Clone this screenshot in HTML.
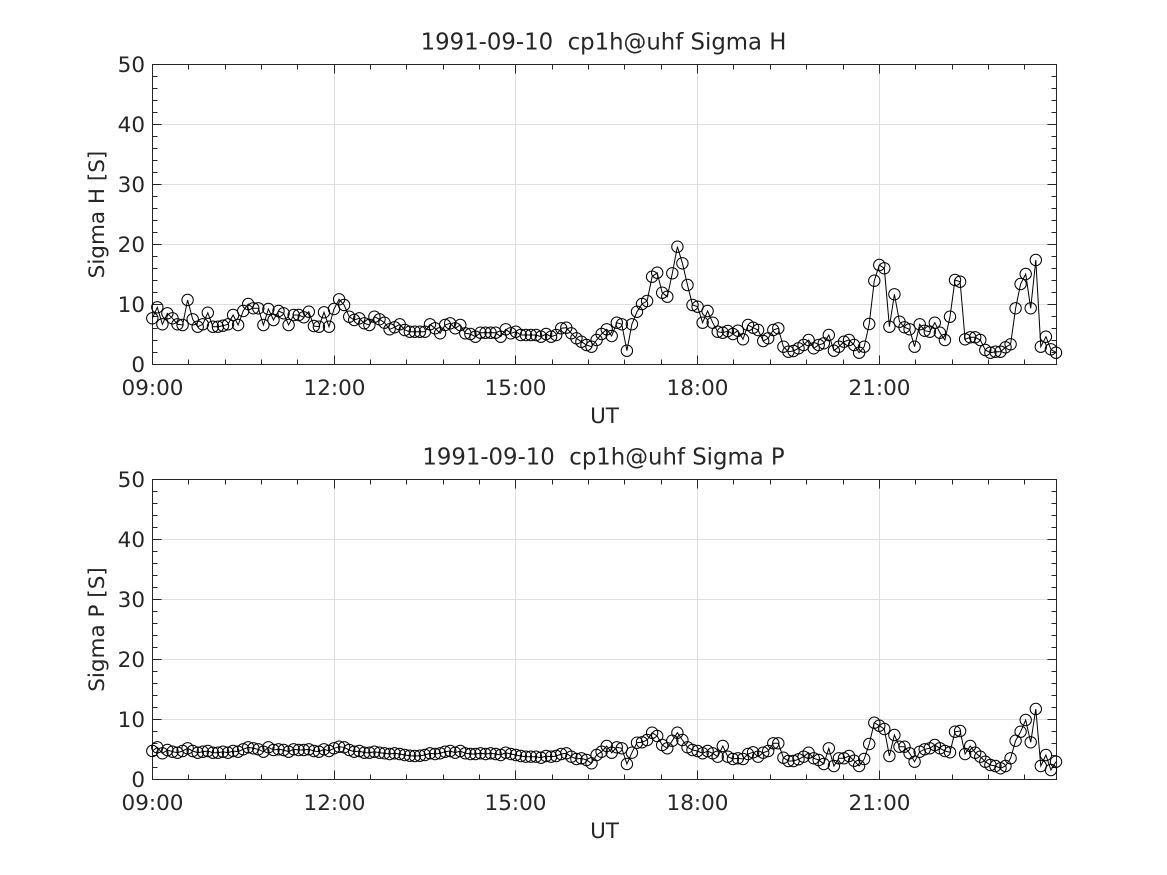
<!DOCTYPE html>
<html><head><meta charset="utf-8"><style>
html,body{margin:0;padding:0;background:#fff;}
svg{display:block;}
text{font-family:"DejaVu Sans","Liberation Sans",sans-serif;fill:#262626;}
</style></head><body>
<svg width="1167" height="875" viewBox="0 0 1167 875" xmlns="http://www.w3.org/2000/svg">
<defs>
<marker id="m" markerWidth="16" markerHeight="16" refX="8" refY="8" markerUnits="userSpaceOnUse"><circle cx="8" cy="8" r="5.7" fill="none" stroke="#000" stroke-width="1"/></marker>
<g id="ax">
<path d="M334.5 64.5V364.5M515.5 64.5V364.5M697.5 64.5V364.5M879.5 64.5V364.5M152.5 304.5H1056.5M152.5 244.5H1056.5M152.5 184.5H1056.5M152.5 124.5H1056.5" stroke="#dedede" stroke-width="1" fill="none"/>
<path d="M334.5 364.5V355.5M515.5 364.5V355.5M697.5 364.5V355.5M879.5 364.5V355.5M334.5 64.5V73.5M515.5 64.5V73.5M697.5 64.5V73.5M879.5 64.5V73.5
M188.5 364.5V359.5M188.5 64.5V69.5M225.5 364.5V359.5M225.5 64.5V69.5M261.5 364.5V359.5M261.5 64.5V69.5M297.5 364.5V359.5M297.5 64.5V69.5
M370.5 364.5V359.5M370.5 64.5V69.5M406.5 364.5V359.5M406.5 64.5V69.5M443.5 364.5V359.5M443.5 64.5V69.5M479.5 364.5V359.5M479.5 64.5V69.5
M552.5 364.5V359.5M552.5 64.5V69.5M588.5 364.5V359.5M588.5 64.5V69.5M624.5 364.5V359.5M624.5 64.5V69.5M661.5 364.5V359.5M661.5 64.5V69.5
M733.5 364.5V359.5M733.5 64.5V69.5M770.5 364.5V359.5M770.5 64.5V69.5M806.5 364.5V359.5M806.5 64.5V69.5M843.5 364.5V359.5M843.5 64.5V69.5
M915.5 364.5V359.5M915.5 64.5V69.5M952.5 364.5V359.5M952.5 64.5V69.5M988.5 364.5V359.5M988.5 64.5V69.5M1024.5 364.5V359.5M1024.5 64.5V69.5
M152.5 304.5H161.5M1056.5 304.5H1047.5M152.5 244.5H161.5M1056.5 244.5H1047.5M152.5 184.5H161.5M1056.5 184.5H1047.5M152.5 124.5H161.5M1056.5 124.5H1047.5
M152.5 352.5H157.5M1056.5 352.5H1051.5M152.5 340.5H157.5M1056.5 340.5H1051.5M152.5 328.5H157.5M1056.5 328.5H1051.5M152.5 316.5H157.5M1056.5 316.5H1051.5
M152.5 292.5H157.5M1056.5 292.5H1051.5M152.5 280.5H157.5M1056.5 280.5H1051.5M152.5 268.5H157.5M1056.5 268.5H1051.5M152.5 256.5H157.5M1056.5 256.5H1051.5
M152.5 232.5H157.5M1056.5 232.5H1051.5M152.5 220.5H157.5M1056.5 220.5H1051.5M152.5 208.5H157.5M1056.5 208.5H1051.5M152.5 196.5H157.5M1056.5 196.5H1051.5
M152.5 172.5H157.5M1056.5 172.5H1051.5M152.5 160.5H157.5M1056.5 160.5H1051.5M152.5 148.5H157.5M1056.5 148.5H1051.5M152.5 136.5H157.5M1056.5 136.5H1051.5
M152.5 112.5H157.5M1056.5 112.5H1051.5M152.5 100.5H157.5M1056.5 100.5H1051.5M152.5 88.5H157.5M1056.5 88.5H1051.5M152.5 76.5H157.5M1056.5 76.5H1051.5" stroke="#262626" stroke-width="1" fill="none"/>
<rect x="152.5" y="64.5" width="904" height="300" fill="none" stroke="#262626" stroke-width="1"/>
</g>
</defs>
<rect width="1167" height="875" fill="#fff"/>
<use href="#ax"/>
<use href="#ax" transform="translate(0,415)"/>

<polyline fill="none" stroke="#000" stroke-width="1" marker-start="url(#m)" marker-mid="url(#m)" marker-end="url(#m)" points="152.3,318.3 157.3,307.3 162.4,324.3 167.4,313.3 172.5,318.3 177.5,324.3 182.6,325 187.6,300 192.7,319.3 197.7,326.7 202.8,324.3 207.8,312.7 212.9,326.7 217.9,326.7 223,325.7 228,324.3 233.1,315 238.1,325 243.2,311 248.2,304 253.3,308.3 258.3,308.3 263.4,325 268.4,309 273.5,320 278.5,311 283.6,313.3 288.6,325 293.7,315 298.7,315 303.8,317.3 308.8,311.7 313.9,326 318.9,326.7 324,312.3 329,326.7 334,309 339.1,299.3 344.1,305 349.2,316.7 354.2,320 359.3,318.3 364.3,323.3 369.4,325 374.4,316.7 379.5,319.3 384.5,322.7 389.6,329.3 394.6,327.3 399.7,324.3 404.7,330 409.8,331.7 414.8,331.7 419.9,331.7 424.9,331.7 430,324.3 435,328.3 440.1,333.3 445.1,325 450.2,323.3 455.2,328.3 460.3,325 465.3,333.3 470.4,334 475.4,336.7 480.5,332.7 485.5,332.7 490.6,332.7 495.6,332.7 500.7,336.7 505.7,329.3 510.8,333.3 515.8,331.7 520.8,335 525.9,335 530.9,335 536,335 541,336.7 546.1,334 551.1,336.7 556.2,335 561.2,328.3 566.3,327.7 571.3,333.3 576.4,338.3 581.4,341.7 586.5,345 591.5,346.7 596.6,340 601.6,334 606.7,329.3 611.7,336 616.8,322.7 621.8,324.3 626.9,350.7 631.9,324.3 637,311.7 642,304 647.1,301 652.1,276.7 657.2,272.7 662.2,292.7 667.3,296.7 672.3,273.3 677.4,246.7 682.4,263.3 687.5,285 692.5,305 697.6,306.7 702.6,322.7 707.6,311 712.7,322.7 717.7,331.7 722.8,332.7 727.8,331 732.9,334 737.9,330.7 743,339.3 748,325 753.1,327.7 758.1,330 763.2,341 768.2,338.3 773.3,330 778.3,328.3 783.4,346.7 788.4,351.7 793.5,351 798.5,348.3 803.6,345 808.6,340 813.7,348.3 818.7,345 823.8,343.3 828.8,335 833.9,350.7 838.9,346.7 844,341.7 849,340 854.1,345 859.1,352.7 864.2,346.7 869.2,324 874.3,280.7 879.3,265 884.3,268.3 889.4,326.7 894.4,294.3 899.5,321.7 904.5,327.3 909.6,329.3 914.6,346.7 919.7,324.3 924.7,330.7 929.8,331.7 934.8,322.7 939.9,332.7 944.9,340 950,316.7 955,280 960.1,281.7 965.1,339.3 970.2,337.3 975.2,337.3 980.3,340 985.3,350 990.4,352.7 995.4,351.7 1000.5,351.7 1005.5,347.3 1010.6,344.3 1015.6,308.3 1020.6,284 1025.7,274 1030.7,308.3 1035.8,260 1040.8,346.7 1045.9,336.7 1050.9,349.3 1056,352.7"/>

<polyline fill="none" stroke="#000" stroke-width="1" marker-start="url(#m)" marker-mid="url(#m)" marker-end="url(#m)" points="152.3,751 157.3,747.3 162.4,753.3 167.4,750 172.5,751.7 177.5,752.7 182.6,751 187.6,748.3 192.7,751 197.7,752.7 202.8,751.7 207.8,751 212.9,752.7 217.9,752.7 223,751.7 228,752.7 233.1,751 238.1,751.7 243.2,749.3 248.2,747.3 253.3,748.3 258.3,749.3 263.4,751.7 268.4,747.3 273.5,750 278.5,749.3 283.6,750 288.6,751.7 293.7,749.3 298.7,750 303.8,750 308.8,749.3 313.9,751 318.9,751.7 324,749.3 329,751 334,748.3 339.1,746.7 344.1,747.3 349.2,750 354.2,751.7 359.3,751 364.3,752.7 369.4,752.7 374.4,751.7 379.5,752.7 384.5,753.3 389.6,754 394.6,753.3 399.7,754 404.7,755 409.8,755.7 414.8,756 419.9,755.7 424.9,755 430,753.3 435,754 440.1,753.3 445.1,751.7 450.2,751 455.2,752.7 460.3,751 465.3,753.3 470.4,754 475.4,754 480.5,753.3 485.5,754 490.6,753.3 495.6,754 500.7,755 505.7,752.7 510.8,754 515.8,755 520.8,756 525.9,756.7 530.9,756.7 536,756.7 541,757.7 546.1,756 551.1,756.7 556.2,756 561.2,754 566.3,753.3 571.3,756.7 576.4,759 581.4,758.3 586.5,760 591.5,763.3 596.6,755 601.6,751.7 606.7,746 611.7,752.7 616.8,747.3 621.8,748.3 626.9,764 631.9,752.7 637,742.7 642,742.3 647.1,740 652.1,732.7 657.2,736 662.2,745 667.3,748.3 672.3,740.7 677.4,732.7 682.4,740 687.5,747.3 692.5,750 697.6,751 702.6,753.3 707.6,751 712.7,753.3 717.7,756.7 722.8,746 727.8,756.7 732.9,759 737.9,758.3 743,759 748,754 753.1,752.3 758.1,756.7 763.2,752.7 768.2,751 773.3,743.3 778.3,743.3 783.4,757.7 788.4,761 793.5,761 798.5,759.3 803.6,756.7 808.6,752.7 813.7,758.3 818.7,760 823.8,764 828.8,748.3 833.9,766 838.9,758.3 844,758.3 849,756 854.1,760.7 859.1,766 864.2,759 869.2,744 874.3,722.7 879.3,725.7 884.3,729 889.4,756 894.4,735 899.5,746.7 904.5,746.7 909.6,753.3 914.6,761.7 919.7,751.7 924.7,749.3 929.8,748.3 934.8,745 939.9,748.3 944.9,751 950,752.3 955,731.7 960.1,731 965.1,754 970.2,746 975.2,752.7 980.3,756.7 985.3,761.7 990.4,765 995.4,766 1000.5,768.3 1005.5,766 1010.6,758.3 1015.6,740.7 1020.6,731.7 1025.7,720 1030.7,742.3 1035.8,709 1040.8,766 1045.9,755 1050.9,770 1056,761.7"/>

<!-- Top axes text -->
<text x="603.5" y="49.5" font-size="22.8" text-anchor="middle" xml:space="preserve">1991-09-10  cp1h@uhf Sigma H</text>
<g font-size="21.5" text-anchor="end">
<text x="145" y="372.2">0</text>
<text x="145" y="312.2">10</text>
<text x="145" y="252.2">20</text>
<text x="145" y="192.2">30</text>
<text x="145" y="132.2">40</text>
<text x="145" y="72.2">50</text>
</g>
<g font-size="21.5" text-anchor="middle">
<text x="152.5" y="395">09:00</text>
<text x="334.5" y="395">12:00</text>
<text x="515.5" y="395">15:00</text>
<text x="697.5" y="395">18:00</text>
<text x="879.5" y="395">21:00</text>
<text x="604.5" y="423">UT</text>
<text transform="translate(104,214.5) rotate(-90)">Sigma H [S]</text>
</g>

<!-- Bottom axes text -->
<text x="603.5" y="464.5" font-size="22.8" text-anchor="middle" xml:space="preserve">1991-09-10  cp1h@uhf Sigma P</text>
<g font-size="21.5" text-anchor="end">
<text x="145" y="787.2">0</text>
<text x="145" y="727.2">10</text>
<text x="145" y="667.2">20</text>
<text x="145" y="607.2">30</text>
<text x="145" y="547.2">40</text>
<text x="145" y="487.2">50</text>
</g>
<g font-size="21.5" text-anchor="middle">
<text x="152.5" y="810">09:00</text>
<text x="334.5" y="810">12:00</text>
<text x="515.5" y="810">15:00</text>
<text x="697.5" y="810">18:00</text>
<text x="879.5" y="810">21:00</text>
<text x="604.5" y="838">UT</text>
<text transform="translate(104,629.5) rotate(-90)">Sigma P [S]</text>
</g>
</svg>
</body></html>
